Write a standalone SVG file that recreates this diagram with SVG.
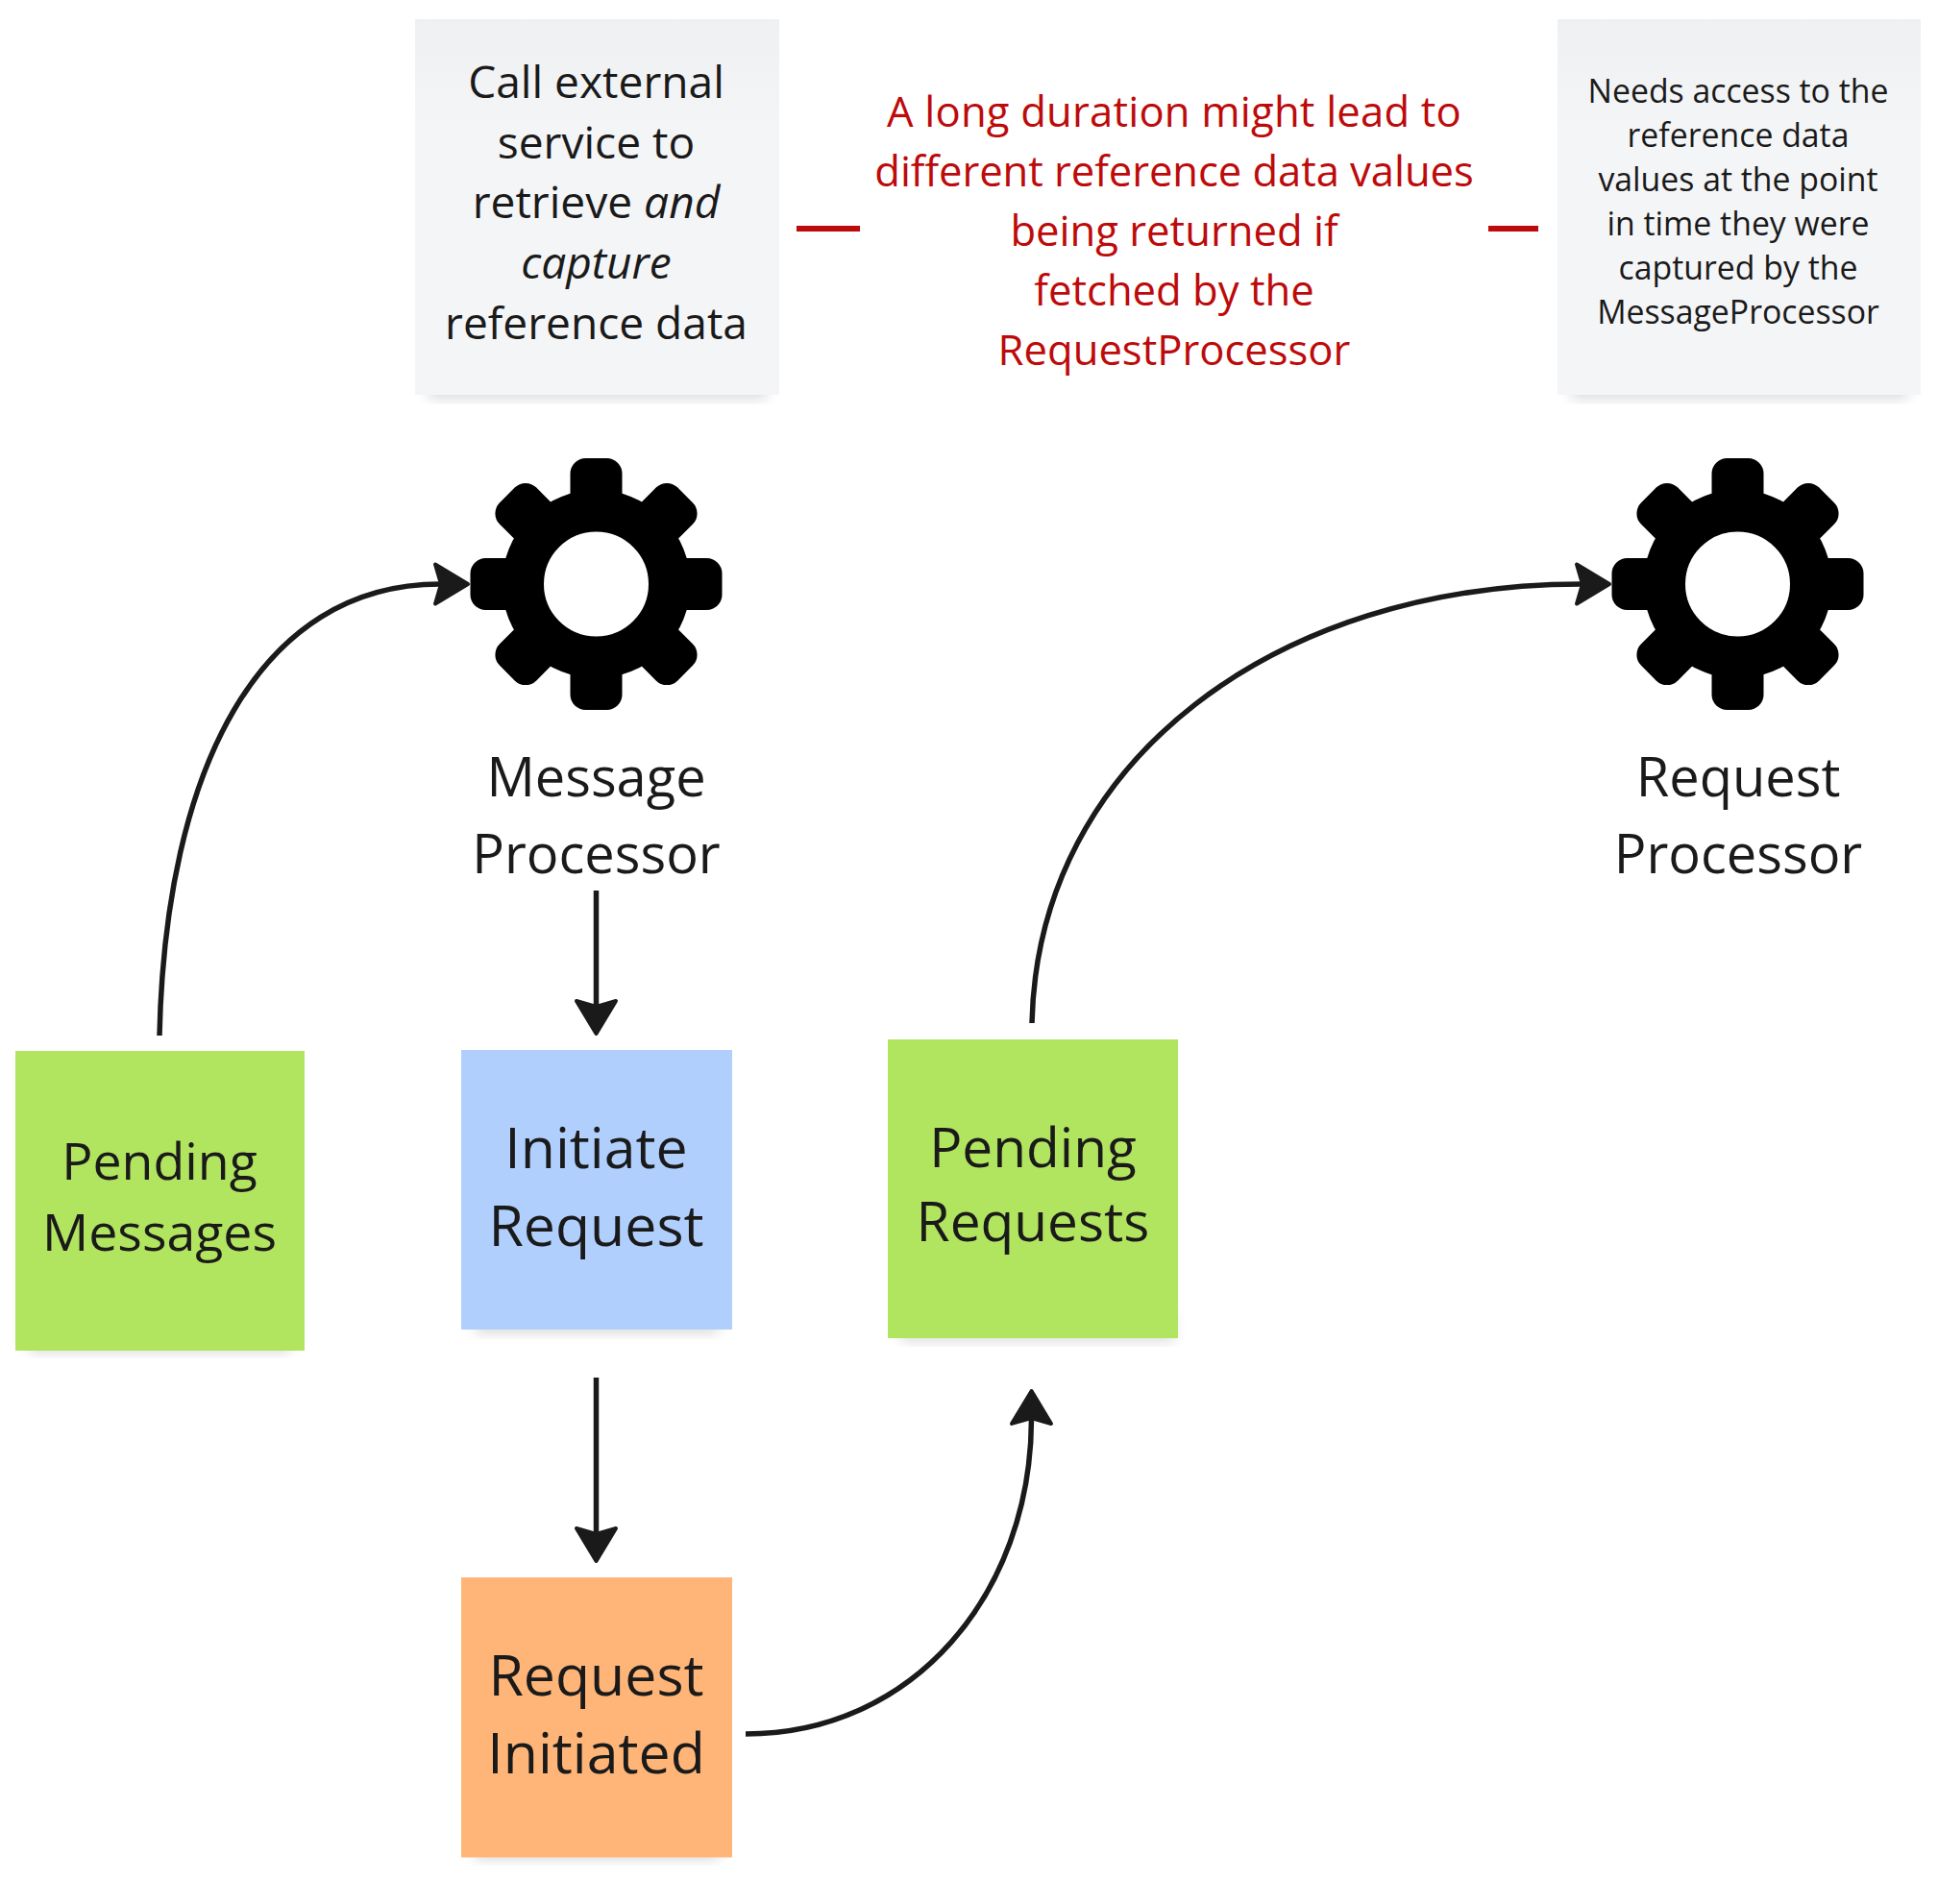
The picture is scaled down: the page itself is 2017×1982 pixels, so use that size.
<svg xmlns="http://www.w3.org/2000/svg" width="2017" height="1982" viewBox="0 0 2017 1982">
<style>
text{font-family:"Open Sans","Noto Sans",sans-serif;fill:#1a1a1a;text-anchor:middle}
.note{font-size:46.1px}.small{font-size:33.8px}.red{font-size:43.6px;fill:#bd0a0a}.lab{font-size:56px}.st1{font-size:53.6px}.st2{font-size:59px}.st3{font-size:56.8px}
.con{fill:none;stroke:#1a1a1a;stroke-width:5.5;marker-end:url(#ah)}
.dash{stroke:#bd0a0a;stroke-width:6;fill:none}
.sh{fill:#000;opacity:.14;filter:url(#blur)}
.tooth{fill:#000}
</style>
<defs>
<filter id="blur" x="-20%" y="-20%" width="140%" height="140%"><feGaussianBlur stdDeviation="7"/></filter>
<linearGradient id="ng" x1="0" y1="0" x2="0" y2="1"><stop offset="0" stop-color="#eff0f2"/><stop offset=".3" stop-color="#f4f5f7"/></linearGradient>
<marker id="ah" markerUnits="userSpaceOnUse" markerWidth="60" markerHeight="60" orient="auto" refX="0" refY="0" overflow="visible"><path d="M29 0L-5 -20.500L1 0L-5 20.500Z" fill="#1a1a1a" stroke="#1a1a1a" stroke-width="4" stroke-linejoin="round"/></marker>
<g id="gear"><circle r="76.25" fill="none" stroke="#000" stroke-width="43.5"/>
<g id="teeth"><rect class="tooth" x="-27" y="-131" width="54" height="60" rx="16"/><rect class="tooth" x="-27" y="-131" width="54" height="60" rx="16" transform="rotate(45)"/><rect class="tooth" x="-27" y="-131" width="54" height="60" rx="16" transform="rotate(90)"/><rect class="tooth" x="-27" y="-131" width="54" height="60" rx="16" transform="rotate(135)"/><rect class="tooth" x="-27" y="-131" width="54" height="60" rx="16" transform="rotate(180)"/><rect class="tooth" x="-27" y="-131" width="54" height="60" rx="16" transform="rotate(225)"/><rect class="tooth" x="-27" y="-131" width="54" height="60" rx="16" transform="rotate(270)"/><rect class="tooth" x="-27" y="-131" width="54" height="60" rx="16" transform="rotate(315)"/></g></g>
</defs>
<rect width="2017" height="1982" fill="#fff"/>
<g id="note-call">
<rect class="sh" x="446" y="385" width="352" height="30"/><rect x="432" y="20" width="379" height="391" fill="url(#ng)"/>
<text class="note" x="620.500" y="102">Call external</text><text class="note" x="620.500" y="164.500">service to</text><text class="note" x="620.500" y="227.400">retrieve <tspan font-style="italic">and</tspan></text><text class="note" x="620.500" y="290" font-style="italic">capture</text><text class="note" x="620.500" y="352.800">reference data</text>
</g>
<g id="note-needs">
<rect class="sh" x="1635" y="385" width="351" height="30"/><rect x="1621" y="20" width="378" height="391" fill="url(#ng)"/>
<text class="small" x="1809" y="107">Needs access to the</text><text class="small" x="1809" y="153">reference data</text><text class="small" x="1809" y="199">values at the point</text><text class="small" x="1809" y="245">in time they were</text><text class="small" x="1809" y="291">captured by the</text><text class="small" x="1809" y="337">MessageProcessor</text>
</g>
<g id="warning">
<text class="red" x="1222" y="132" letter-spacing=".2">A long duration might lead to</text><text class="red" x="1222" y="194.400" letter-spacing="-.07">different reference data values</text><text class="red" x="1222" y="256.300">being returned if</text><text class="red" x="1222" y="318.200">fetched by the</text><text class="red" x="1222" y="379.500">RequestProcessor</text>
</g>
<g id="message-processor"><use href="#gear" x="620.500" y="608"/><text class="lab" x="620.500" y="829">Message</text><text class="lab" x="620.500" y="909">Processor</text></g>
<g id="request-processor"><use href="#gear" x="1808.500" y="608"/><text class="lab" x="1809" y="829">Request</text><text class="lab" x="1809" y="909">Processor</text></g>
<g id="pending-messages"><rect class="sh" x="30" y="1380" width="272" height="28"/><rect x="16" y="1094" width="301" height="312" fill="#b2e55f"/><text class="st1" x="166" y="1228">Pending</text><text class="st1" x="166" y="1302">Messages</text></g>
<g id="initiate-request"><rect class="sh" x="494" y="1360" width="254" height="28"/><rect x="480" y="1093" width="282" height="291" fill="#b0cffd"/><text class="st2" x="620.500" y="1216">Initiate</text><text class="st2" x="620.500" y="1297">Request</text></g>
<g id="request-initiated"><rect class="sh" x="494" y="1908" width="254" height="28"/><rect x="480" y="1642" width="282" height="291.500" fill="#ffb578"/><text class="st2" x="620.500" y="1765">Request</text><text class="st2" x="620.500" y="1846">Initiated</text></g>
<g id="pending-requests"><rect class="sh" x="938" y="1368" width="284" height="28"/><rect x="924" y="1082" width="302" height="311" fill="#b2e55f"/><text class="st3" x="1075" y="1215">Pending</text><text class="st3" x="1075" y="1292">Requests</text></g>
<g id="connectors">
<path class="con" d="M166 1078C172 800 270 608 458 608"/>
<path class="con" d="M620.500 927V1047"/>
<path class="con" d="M620.500 1434V1596"/>
<path class="con" d="M776 1805C950 1805 1073 1660 1073.500 1477"/>
<path class="con" d="M1074 1065C1080 790 1330 608 1646 608"/>
<path class="dash" d="M829 238H895"/><path class="dash" d="M1549 238H1601"/>
</g>
</svg>
